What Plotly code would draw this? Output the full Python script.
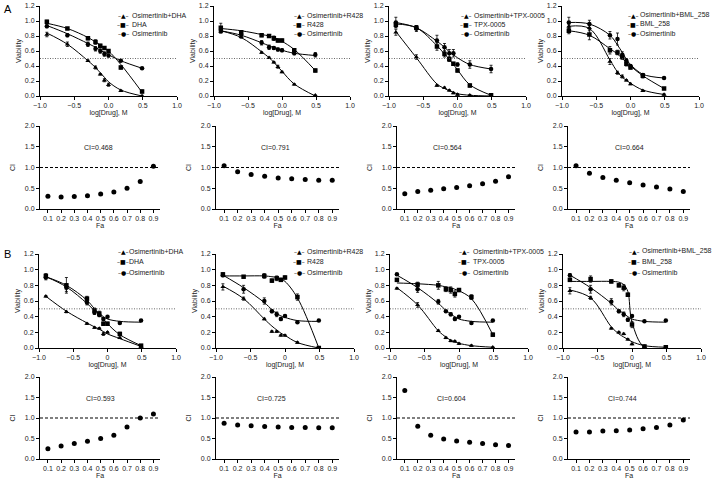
import plotly.graph_objects as go

W, H = 713, 480

# ---------------- data ----------------
LOG_DOSE = [-0.9, -0.6, -0.3, -0.19, -0.12, -0.06, 0.0, 0.18, 0.49]
FA = [0.1, 0.2, 0.3, 0.4, 0.5, 0.6, 0.7, 0.8, 0.9]
DOSE_TICKS = [-1.0, -0.5, 0.0, 0.5, 1.0]
DOSE_TICKTEXT_A = ["\u22121.0", "\u22120.5", "0.0", "0.5", "1.0"]
DOSE_TICKTEXT_B = ["\u22121.0", "\u22120.5", "0", "0.5", "1.0"]
PARTNERS = ["DHA", "R428", "TPX-0005", "BML_258"]
BASE_DRUG = "Osimertinib"

# Row A viability (measured points)
A1_COMBO = [0.82, 0.69, 0.47, 0.38, 0.29, 0.21, 0.15, 0.07, 0.0]
A1_SINGLE = [0.99, 0.90, 0.77, 0.72, 0.67, 0.64, 0.60, 0.38, 0.06]
A1_OSI = [0.93, 0.81, 0.69, 0.63, 0.60, 0.56, 0.54, 0.47, 0.37]
A2_COMBO = [0.86, 0.79, 0.58, 0.51, 0.45, 0.39, 0.32, 0.155, 0.01]
A2_SINGLE = [0.91, 0.85, 0.81, 0.80, 0.77, 0.74, 0.74, 0.61, 0.34]
A2_OSI = [0.87, 0.82, 0.71, 0.65, 0.64, 0.62, 0.61, 0.57, 0.55]
A3_COMBO = [0.85, 0.52, 0.14, 0.11, 0.075, 0.04, 0.02, 0.01, 0.0]
A3_SINGLE = [0.95, 0.91, 0.66, 0.56, 0.49, 0.43, 0.34, 0.14, 0.01]
A3_OSI = [0.98, 0.90, 0.74, 0.65, 0.57, 0.57, 0.42, 0.42, 0.36]
A4_COMBO = [0.93, 0.91, 0.46, 0.31, 0.26, 0.21, 0.16, 0.07, 0.02]
A4_SINGLE = [0.87, 0.82, 0.61, 0.58, 0.52, 0.43, 0.38, 0.27, 0.10]
A4_OSI = [0.98, 0.96, 0.81, 0.76, 0.55, 0.47, 0.40, 0.28, 0.24]

# Row B viability (measured points)
B1_COMBO = [0.66, 0.46, 0.31, 0.26, 0.25, 0.18, 0.20, 0.13, 0.02]
B1_SINGLE = [0.92, 0.80, 0.63, 0.48, 0.44, 0.31, 0.31, 0.18, 0.03]
B1_OSI = [0.90, 0.77, 0.58, 0.45, 0.42, 0.37, 0.40, 0.32, 0.35]
B2_COMBO = [0.78, 0.63, 0.37, 0.21, 0.21, 0.16, 0.16, 0.07, 0.0]
B2_SINGLE = [0.94, 0.91, 0.92, 0.86, 0.89, 0.87, 0.90, 0.65, 0.0]
B2_OSI = [0.93, 0.75, 0.60, 0.47, 0.43, 0.37, 0.41, 0.33, 0.35]
B3_COMBO = [0.76, 0.55, 0.22, 0.13, 0.09, 0.085, 0.055, 0.03, 0.01]
B3_SINGLE = [0.87, 0.81, 0.80, 0.75, 0.74, 0.69, 0.74, 0.65, 0.17]
B3_OSI = [0.94, 0.75, 0.59, 0.47, 0.43, 0.37, 0.40, 0.32, 0.35]
B4_COMBO = [0.73, 0.64, 0.25, 0.20, 0.18, 0.11, 0.05, 0.02, 0.01]
B4_SINGLE = [0.87, 0.88, 0.85, 0.80, 0.77, 0.68, 0.30, 0.02, 0.01]
B4_OSI = [0.93, 0.75, 0.59, 0.47, 0.43, 0.36, 0.41, 0.34, 0.35]

# Fitted dose-response curves at the same doses
A1_COMBO_FIT = [0.84, 0.69, 0.47, 0.38, 0.31, 0.25, 0.19, 0.08, 0.0]
A1_SINGLE_FIT = [0.97, 0.90, 0.78, 0.72, 0.68, 0.64, 0.60, 0.42, 0.05]
A1_OSI_FIT = [0.94, 0.83, 0.70, 0.65, 0.61, 0.58, 0.55, 0.47, 0.37]
A2_COMBO_FIT = [0.87, 0.78, 0.59, 0.51, 0.45, 0.39, 0.33, 0.16, 0.0]
A2_SINGLE_FIT = [0.90, 0.87, 0.82, 0.80, 0.78, 0.76, 0.73, 0.62, 0.34]
A2_OSI_FIT = [0.87, 0.81, 0.71, 0.67, 0.65, 0.63, 0.61, 0.57, 0.54]
A3_COMBO_FIT = [0.86, 0.51, 0.16, 0.10, 0.07, 0.05, 0.03, 0.01, 0.0]
A3_SINGLE_FIT = [0.96, 0.91, 0.67, 0.56, 0.49, 0.42, 0.35, 0.15, 0.01]
A3_OSI_FIT = [0.98, 0.91, 0.73, 0.65, 0.59, 0.55, 0.51, 0.42, 0.36]
A4_COMBO_FIT = [0.93, 0.90, 0.48, 0.32, 0.25, 0.21, 0.17, 0.08, 0.02]
A4_SINGLE_FIT = [0.87, 0.81, 0.63, 0.56, 0.50, 0.45, 0.40, 0.27, 0.10]
A4_OSI_FIT = [0.98, 0.96, 0.81, 0.68, 0.58, 0.49, 0.42, 0.29, 0.24]
B1_COMBO_FIT = [0.66, 0.47, 0.32, 0.27, 0.24, 0.21, 0.18, 0.12, 0.02]
B1_SINGLE_FIT = [0.91, 0.80, 0.61, 0.50, 0.43, 0.37, 0.31, 0.17, 0.03]
B1_OSI_FIT = [0.91, 0.78, 0.57, 0.48, 0.44, 0.40, 0.37, 0.34, 0.33]
B2_COMBO_FIT = [0.79, 0.63, 0.37, 0.28, 0.23, 0.19, 0.16, 0.07, 0.0]
B2_SINGLE_FIT = [0.92, 0.92, 0.92, 0.91, 0.90, 0.88, 0.85, 0.64, 0.0]
B2_OSI_FIT = [0.93, 0.77, 0.58, 0.49, 0.44, 0.41, 0.39, 0.35, 0.34]
B3_COMBO_FIT = [0.77, 0.55, 0.22, 0.14, 0.10, 0.08, 0.06, 0.03, 0.01]
B3_SINGLE_FIT = [0.83, 0.82, 0.80, 0.78, 0.77, 0.75, 0.73, 0.63, 0.17]
B3_OSI_FIT = [0.93, 0.77, 0.57, 0.48, 0.43, 0.40, 0.37, 0.34, 0.33]
B4_COMBO_FIT = [0.74, 0.64, 0.27, 0.18, 0.14, 0.11, 0.08, 0.03, 0.01]
B4_SINGLE_FIT = [0.85, 0.85, 0.85, 0.84, 0.81, 0.72, 0.33, 0.01, 0.0]
B4_OSI_FIT = [0.93, 0.77, 0.57, 0.48, 0.44, 0.40, 0.37, 0.34, 0.33]

# error bars (SD)
A1_COMBO_ERR = [0.03, 0.03, 0.01, 0.02, 0.01, 0.02, 0.02, 0.01, 0.01]
A1_SINGLE_ERR = [0.02, 0.01, 0.02, 0.03, 0.02, 0.02, 0.02, 0.02, 0.02]
A1_OSI_ERR = [0.02, 0.02, 0.03, 0.03, 0.03, 0.03, 0.02, 0.01, 0.01]
A2_COMBO_ERR = [0.02, 0.02, 0.01, 0.01, 0.01, 0.02, 0.01, 0.01, 0.0]
A2_SINGLE_ERR = [0.06, 0.02, 0.02, 0.02, 0.03, 0.02, 0.02, 0.02, 0.02]
A2_OSI_ERR = [0.03, 0.03, 0.03, 0.03, 0.02, 0.02, 0.02, 0.02, 0.03]
A3_COMBO_ERR = [0.04, 0.03, 0.01, 0.01, 0.01, 0.01, 0.01, 0.01, 0.0]
A3_SINGLE_ERR = [0.04, 0.03, 0.05, 0.04, 0.03, 0.02, 0.02, 0.02, 0.01]
A3_OSI_ERR = [0.07, 0.04, 0.07, 0.05, 0.05, 0.05, 0.02, 0.05, 0.05]
A4_COMBO_ERR = [0.03, 0.04, 0.04, 0.02, 0.02, 0.01, 0.01, 0.01, 0.01]
A4_SINGLE_ERR = [0.04, 0.07, 0.05, 0.03, 0.03, 0.03, 0.02, 0.03, 0.01]
A4_OSI_ERR = [0.07, 0.05, 0.05, 0.08, 0.04, 0.03, 0.02, 0.02, 0.01]
B1_COMBO_ERR = [0.01, 0.01, 0.01, 0.01, 0.01, 0.02, 0.01, 0.01, 0.01]
B1_SINGLE_ERR = [0.03, 0.10, 0.03, 0.03, 0.03, 0.02, 0.02, 0.02, 0.01]
B1_OSI_ERR = [0.03, 0.05, 0.03, 0.02, 0.02, 0.02, 0.01, 0.01, 0.01]
B2_COMBO_ERR = [0.04, 0.02, 0.01, 0.01, 0.01, 0.01, 0.01, 0.01, 0.0]
B2_SINGLE_ERR = [0.02, 0.01, 0.03, 0.02, 0.03, 0.02, 0.02, 0.04, 0.01]
B2_OSI_ERR = [0.02, 0.05, 0.04, 0.02, 0.03, 0.02, 0.01, 0.01, 0.01]
B3_COMBO_ERR = [0.01, 0.03, 0.01, 0.01, 0.01, 0.01, 0.01, 0.01, 0.0]
B3_SINGLE_ERR = [0.01, 0.03, 0.05, 0.03, 0.04, 0.04, 0.02, 0.03, 0.02]
B3_OSI_ERR = [0.01, 0.04, 0.03, 0.01, 0.02, 0.02, 0.01, 0.01, 0.01]
B4_COMBO_ERR = [0.04, 0.02, 0.01, 0.01, 0.01, 0.01, 0.01, 0.01, 0.0]
B4_SINGLE_ERR = [0.02, 0.04, 0.02, 0.02, 0.04, 0.02, 0.04, 0.01, 0.01]
B4_OSI_ERR = [0.02, 0.05, 0.04, 0.02, 0.03, 0.02, 0.01, 0.01, 0.01]

# Combination index vs Fa
CI_A1 = [0.31, 0.29, 0.30, 0.32, 0.36, 0.41, 0.50, 0.66, 1.03]
CI_A2 = [1.04, 0.90, 0.83, 0.79, 0.75, 0.73, 0.71, 0.69, 0.69]
CI_A3 = [0.37, 0.42, 0.45, 0.49, 0.52, 0.56, 0.61, 0.67, 0.78]
CI_A4 = [1.04, 0.86, 0.76, 0.69, 0.63, 0.58, 0.53, 0.48, 0.42]
CI_B1 = [0.25, 0.32, 0.38, 0.43, 0.50, 0.58, 0.78, 1.00, 1.10]
CI_B2 = [0.87, 0.83, 0.81, 0.79, 0.78, 0.77, 0.77, 0.76, 0.76]
CI_B3 = [1.67, 0.80, 0.58, 0.49, 0.44, 0.41, 0.38, 0.35, 0.33]
CI_B4 = [0.66, 0.66, 0.68, 0.69, 0.71, 0.74, 0.77, 0.83, 0.95]
CI_TEXT_A = ["CI=0.468", "CI=0.791", "CI=0.564", "CI=0.664"]
CI_TEXT_B = ["CI=0.593", "CI=0.725", "CI=0.604", "CI=0.744"]

# ---------------- layout geometry (pixels) ----------------
FONT = "Liberation Sans, Arial, sans-serif"
TXT = "#222222"
DOSE_XDOM = [[(40, 177), (214, 350), (389, 526), (562, 699)],
             [(39, 176), (216, 354), (390, 528), (563, 701)]]
DOSE_YDOM = [(6, 96), (254, 348)]
DOSE_TICKTEXT = [DOSE_TICKTEXT_A, DOSE_TICKTEXT_B]
CI_XDOM = [(40, 160), (216, 339), (397, 515), (568, 690)]
CI_YDOM = [(126, 209), (377, 459)]
LEG_KEY_X = [[123, 299, 466, 633], [123, 299, 464, 634]]
LEG_TXT_X = [[130, 305, 472, 638], [127, 305, 471, 640]]
LEG_ROWS = [[15, 24.5, 34], [251, 261.5, 272]]
CI_TEXT_POS = [[0.48, 0.48, 0.43, 0.5], [0.5, 0.45, 0.46, 0.45]]


def xd(a, b):
    return [a / W, b / W]


def yd(top, bottom):
    return [1 - bottom / H, 1 - top / H]


def ax_ids(i):
    s = "" if i == 1 else str(i)
    return f"x{s}", f"y{s}", f"xaxis{s}", f"yaxis{s}"


fig = go.Figure()
layout = dict(width=W, height=H, autosize=False,
              margin=dict(l=0, r=0, t=0, b=0, pad=0),
              paper_bgcolor="white", plot_bgcolor="white",
              font=dict(family=FONT, size=7, color=TXT),
              showlegend=False)
shapes, annotations = [], []

DOSE_DATA = [
    [(A1_COMBO, A1_SINGLE, A1_OSI), (A2_COMBO, A2_SINGLE, A2_OSI),
     (A3_COMBO, A3_SINGLE, A3_OSI), (A4_COMBO, A4_SINGLE, A4_OSI)],
    [(B1_COMBO, B1_SINGLE, B1_OSI), (B2_COMBO, B2_SINGLE, B2_OSI),
     (B3_COMBO, B3_SINGLE, B3_OSI), (B4_COMBO, B4_SINGLE, B4_OSI)],
]
DOSE_FIT = [
    [(A1_COMBO_FIT, A1_SINGLE_FIT, A1_OSI_FIT), (A2_COMBO_FIT, A2_SINGLE_FIT, A2_OSI_FIT),
     (A3_COMBO_FIT, A3_SINGLE_FIT, A3_OSI_FIT), (A4_COMBO_FIT, A4_SINGLE_FIT, A4_OSI_FIT)],
    [(B1_COMBO_FIT, B1_SINGLE_FIT, B1_OSI_FIT), (B2_COMBO_FIT, B2_SINGLE_FIT, B2_OSI_FIT),
     (B3_COMBO_FIT, B3_SINGLE_FIT, B3_OSI_FIT), (B4_COMBO_FIT, B4_SINGLE_FIT, B4_OSI_FIT)],
]
DOSE_ERR = [
    [(A1_COMBO_ERR, A1_SINGLE_ERR, A1_OSI_ERR), (A2_COMBO_ERR, A2_SINGLE_ERR, A2_OSI_ERR),
     (A3_COMBO_ERR, A3_SINGLE_ERR, A3_OSI_ERR), (A4_COMBO_ERR, A4_SINGLE_ERR, A4_OSI_ERR)],
    [(B1_COMBO_ERR, B1_SINGLE_ERR, B1_OSI_ERR), (B2_COMBO_ERR, B2_SINGLE_ERR, B2_OSI_ERR),
     (B3_COMBO_ERR, B3_SINGLE_ERR, B3_OSI_ERR), (B4_COMBO_ERR, B4_SINGLE_ERR, B4_OSI_ERR)],
]
CI_DATA = [[CI_A1, CI_A2, CI_A3, CI_A4], [CI_B1, CI_B2, CI_B3, CI_B4]]
CI_TEXT = [CI_TEXT_A, CI_TEXT_B]

SYMBOLS = ["triangle-up", "square", "circle"]
KEY_GLYPHS = ["\u2013\u25b2\u2013", "\u2013\u25a0\u2013", "\u2013\u25cf\u2013"]

axis_common = dict(showline=True, linecolor="black", linewidth=1,
                   ticks="outside", ticklen=3, tickwidth=1, tickcolor="black",
                   showgrid=False, zeroline=False, automargin=False,
                   tickfont=dict(family=FONT, size=7, color=TXT))

for r in range(2):
    for c in range(4):
        i = r * 4 + c + 1
        xs, ys, xk, yk = ax_ids(i)
        names = [f"{BASE_DRUG}+{PARTNERS[c]}", PARTNERS[c], BASE_DRUG]
        for vals, fit, errs, sym, nm in zip(DOSE_DATA[r][c], DOSE_FIT[r][c],
                                            DOSE_ERR[r][c], SYMBOLS, names):
            fig.add_trace(go.Scatter(
                x=LOG_DOSE, y=fit, name=nm + " fit", xaxis=xs, yaxis=ys,
                mode="lines", hoverinfo="skip",
                line=dict(color="black", width=1, shape="spline", smoothing=1.0)))
            fig.add_trace(go.Scatter(
                x=LOG_DOSE, y=vals, name=nm, xaxis=xs, yaxis=ys,
                mode="markers",
                marker=dict(symbol=sym, size=4.5, color="black"),
                error_y=dict(type="data", array=errs, visible=True,
                             color="black", thickness=0.8, width=1.5)))
        layout[xk] = dict(axis_common, domain=xd(*DOSE_XDOM[r][c]),
                          anchor=ys, range=[-1.0, 1.0],
                          tickvals=DOSE_TICKS, ticktext=DOSE_TICKTEXT[r],
                          title=dict(text="log[Drug], M", standoff=1,
                                     font=dict(size=7, color=TXT)))
        layout[yk] = dict(axis_common, domain=yd(*DOSE_YDOM[r]),
                          anchor=xs, range=[0, 1.2], dtick=0.2,
                          tickformat=".1f",
                          title=dict(text="Viability", standoff=2,
                                     font=dict(size=7, color=TXT)))
        shapes.append(dict(type="line", xref=f"{xs} domain", yref=ys,
                           x0=0, x1=1, y0=0.5, y1=0.5,
                           line=dict(color="#444", width=0.8, dash="1px,1.5px")))
        # legend (keys + labels)
        for k in range(3):
            yy = 1 - LEG_ROWS[r][k] / H
            annotations.append(dict(xref="paper", yref="paper",
                                    x=LEG_KEY_X[r][c] / W, y=yy,
                                    xanchor="center", yanchor="middle",
                                    text=KEY_GLYPHS[k], showarrow=False,
                                    font=dict(family="DejaVu Sans", size=6,
                                              color="black")))
            annotations.append(dict(xref="paper", yref="paper",
                                    x=LEG_TXT_X[r][c] / W, y=yy,
                                    xanchor="left", yanchor="middle",
                                    text=names[k], showarrow=False,
                                    font=dict(family=FONT, size=7, color=TXT)))

        # CI panel
        j = 8 + r * 4 + c + 1
        xs2, ys2, xk2, yk2 = ax_ids(j)
        fig.add_trace(go.Scatter(
            x=FA, y=CI_DATA[r][c], xaxis=xs2, yaxis=ys2, mode="markers",
            name="CI", marker=dict(symbol="circle", size=5, color="black")))
        layout[xk2] = dict(axis_common, domain=xd(*CI_XDOM[c]),
                           anchor=ys2, range=[0.04, 0.95],
                           tickvals=FA, tickformat=".1f",
                           title=dict(text="Fa", standoff=1,
                                      font=dict(size=7, color=TXT)))
        layout[yk2] = dict(axis_common, domain=yd(*CI_YDOM[r]),
                           anchor=xs2, range=[0, 2.0], dtick=0.5,
                           tickformat=".1f",
                           title=dict(text="CI", standoff=8,
                                      font=dict(size=7, color=TXT)))
        shapes.append(dict(type="line", xref=f"{xs2} domain", yref=ys2,
                           x0=0, x1=1, y0=1.0, y1=1.0,
                           line=dict(color="black", width=1.2, dash="3px,2px")))
        annotations.append(dict(xref=xs2, yref=ys2, x=CI_TEXT_POS[r][c], y=1.47,
                                text=CI_TEXT[r][c], showarrow=False,
                                xanchor="center", yanchor="middle",
                                font=dict(family=FONT, size=7, color=TXT)))

annotations.append(dict(xref="paper", yref="paper", x=2 / W, y=1 - 9 / H,
                        text="A", showarrow=False, xanchor="left",
                        yanchor="middle",
                        font=dict(family=FONT, size=11, color="black")))
annotations.append(dict(xref="paper", yref="paper", x=2 / W, y=1 - 254 / H,
                        text="B", showarrow=False, xanchor="left",
                        yanchor="middle",
                        font=dict(family=FONT, size=11, color="black")))

layout["shapes"] = shapes
layout["annotations"] = annotations
fig.update_layout(**layout)
fig.write_html("out.html",
               config={"displayModeBar": False},
               post_script="document.body.style.margin='0px';"
                           "document.body.style.overflow='hidden';")
